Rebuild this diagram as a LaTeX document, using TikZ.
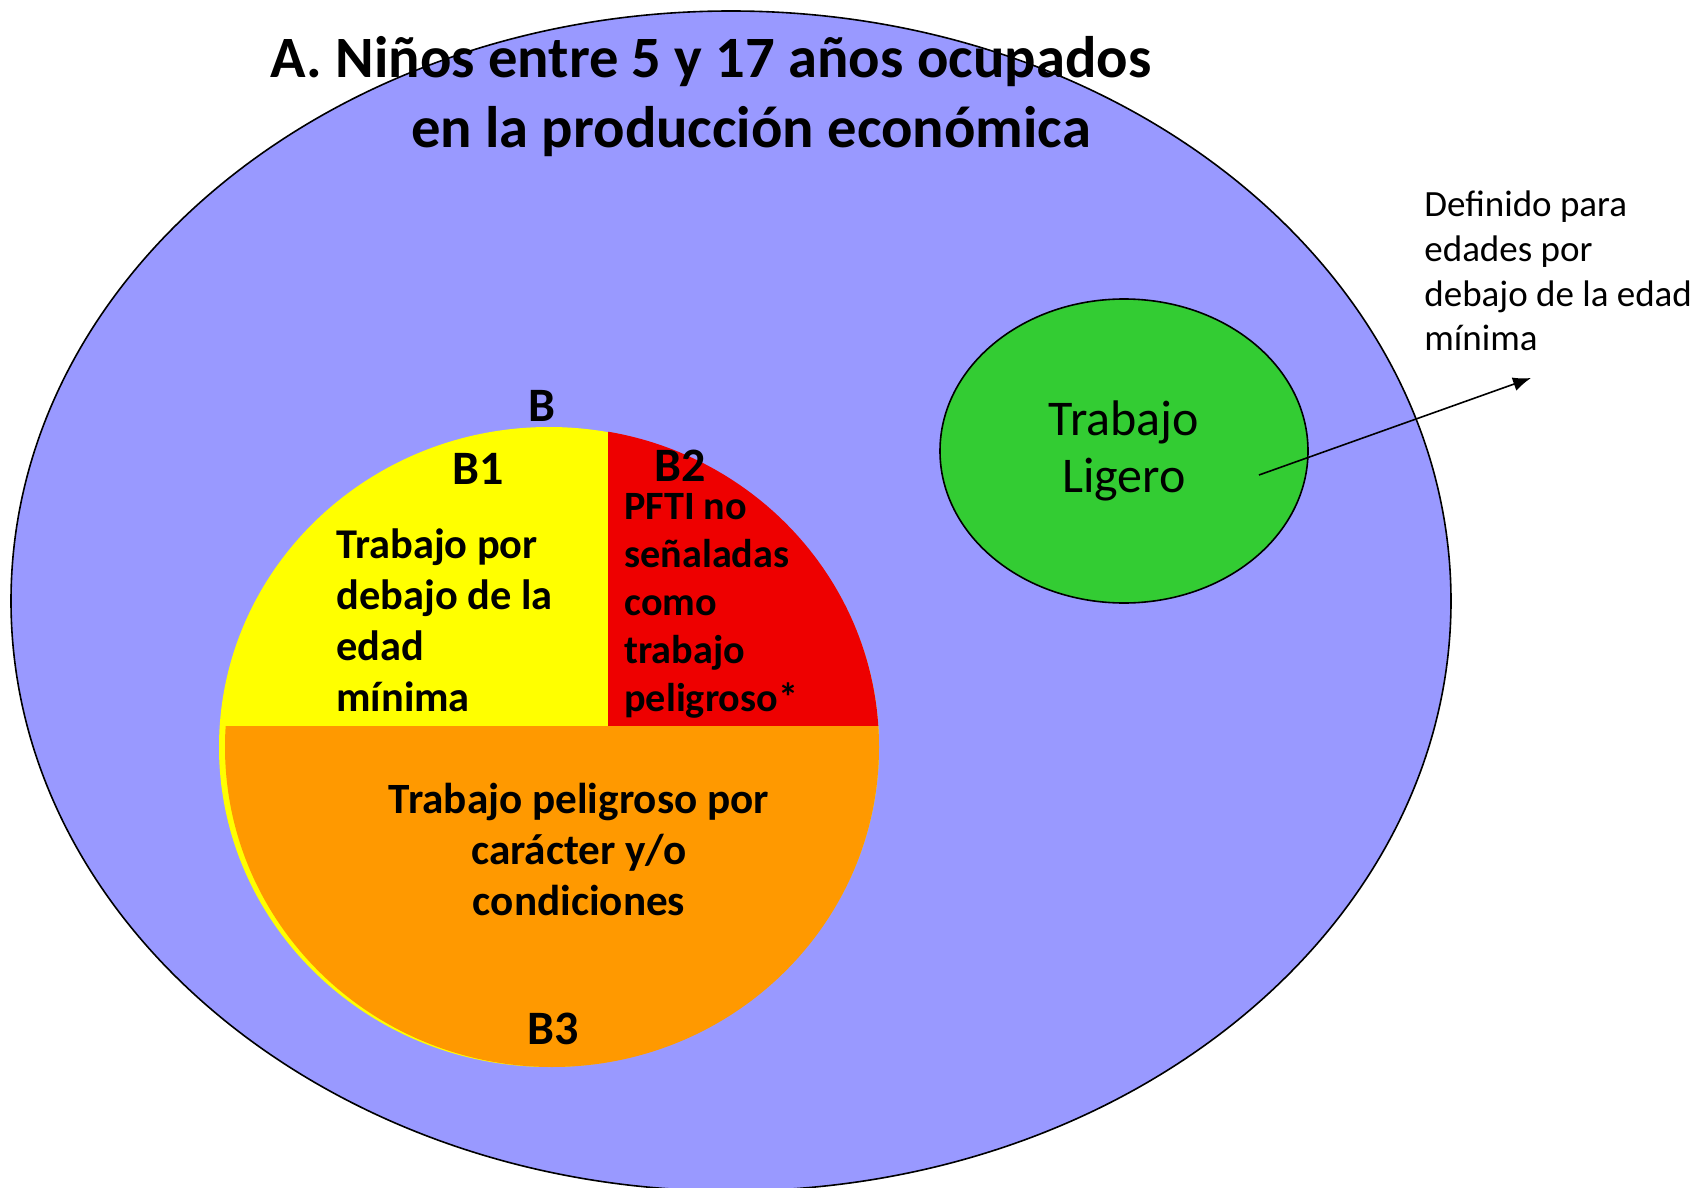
\documentclass[tikz,border=0pt]{standalone}
\usepackage{fontspec}
\setmainfont{Carlito}
\usetikzlibrary{shapes.geometric,arrows.meta}
\definecolor{lila}{HTML}{9999FF}
\definecolor{amarillo}{HTML}{FFFF00}
\definecolor{rojo}{HTML}{EE0000}
\definecolor{naranja}{HTML}{FF9900}
\definecolor{verde}{HTML}{33CC33}
\tikzset{
  etiq/.style={font=\bfseries\fontsize{24}{28}\selectfont, inner sep=0pt},
  cuerpo/.style={font=\bfseries\fontsize{19.5}{25.5}\selectfont, inner sep=0pt},
}

\begin{document}
\begin{tikzpicture}[x=0.5pt,y=-0.5pt]
            \useasboundingbox (0,0) rectangle (1699,1188);
            \fill[white] (0,0) rectangle (1699,1188);

            % conjunto A
            \node[ellipse, draw, line width=0.8pt, fill=lila, inner sep=0pt,
                  minimum width=720pt, minimum height=590pt] (todos) at (731,601) {};
            \node[font=\bfseries\fontsize{29.3}{35}\selectfont, align=center] (titulo) at (731,97)
                {A. Niños entre 5 y 17 años ocupados\hspace*{20pt}\\\hspace*{20pt}en la producción económica};

            % pastel B
            \fill[amarillo] (549,747) ellipse [x radius=330, y radius=320];
            \begin{scope}
                \clip (552,747) ellipse [x radius=327, y radius=320];
                \fill[naranja] (200,726) rectangle (900,1080);
                \fill[rojo] (608,420) rectangle (900,726);
            \end{scope}

            \node[etiq] (b) at (542,406) {B};
            \node[etiq] (b1) at (478,469) {B1};
            \node[etiq] (b2) at (680,466) {B2};
            \node[etiq] (b3) at (553,1029) {B3};

            \node[cuerpo, align=left, anchor=west, font=\bfseries\fontsize{21.2}{25.5}\selectfont] (txtb1) at (336,620)
                {Trabajo por\\debajo de la\\edad\\mínima};
            \node[cuerpo, align=left, anchor=west, font=\bfseries\fontsize{20.1}{24}\selectfont] (txtb2) at (624,606)
                {PFTI no\\señaladas\\como\\trabajo\\peligroso*};
            \node[cuerpo, align=center, font=\bfseries\fontsize{21.6}{25.5}\selectfont] (txtb3) at (579,849)
                {Trabajo peligroso por\\carácter y/o\\condiciones};

            % trabajo ligero
            \node[ellipse, draw, line width=0.8pt, fill=verde, inner sep=0pt,
                  minimum width=184pt, minimum height=152pt, align=center,
                  font=\fontsize{25}{28.5}\selectfont] (ligero) at (1124,451)
                {\raisebox{-3pt}{Trabajo}\\\raisebox{-3pt}{Ligero}};

            \node[align=left, anchor=west, inner sep=0pt,
                  font=\fontsize{18.5}{22.3}\selectfont] (nota) at (1424,271)
                {Definido para\\edades por\\debajo de la edad\\mínima};

            \coordinate (cola) at (1259,475);
            \coordinate (punta) at (1531,378);
            \draw[line width=0.8pt, -{Latex[length=9pt,width=7pt]}] (cola) -- (punta);
        \end{tikzpicture}
\end{document}
